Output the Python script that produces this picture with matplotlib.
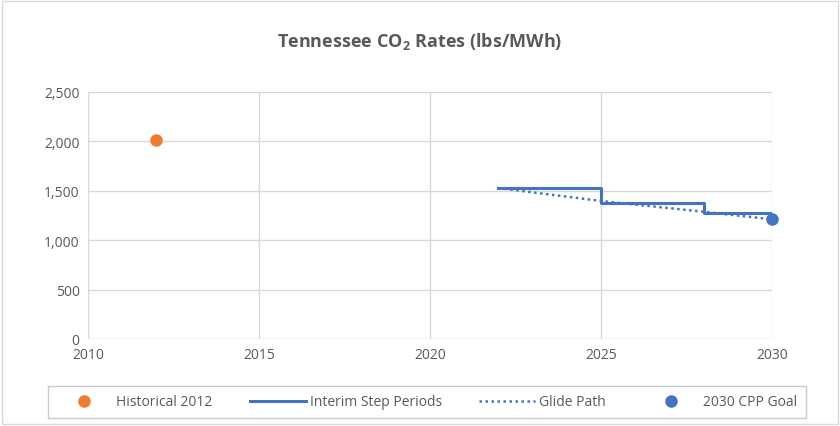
import matplotlib.pyplot as plt
from matplotlib.patches import Rectangle

# Data
hist_year = [2012]
hist_rate = [2015]

step_years = [2022, 2025, 2028, 2030]
step_rates = [1528, 1377, 1275, 1275]

glide_years = [2022, 2025, 2028, 2030]
glide_rates = [1528, 1397, 1288, 1211]

goal_year = [2030]
goal_rate = [1211]

orange = '#ED7D31'
blue = '#4472C4'
text_gray = '#595959'
grid_gray = '#D9D9D9'

plt.rcParams['font.family'] = ['Open Sans', 'DejaVu Sans']

fig = plt.figure(figsize=(8.4, 4.27), dpi=100)
ax = fig.add_axes([88 / 840, 1 - 340 / 427, (772 - 88) / 840, (340 - 93) / 427])

ax.plot(hist_year, hist_rate, 'o', color=orange, markersize=8, label='Historical 2012', zorder=4)
ax.step(step_years, step_rates, where='post', color=blue, linewidth=2.2, label='Interim Step Periods', zorder=3)
ax.plot(glide_years, glide_rates, color=blue, linewidth=1.8, linestyle=(0, (1, 1.4)), label='Glide Path', zorder=3)
ax.plot(goal_year, goal_rate, 'o', color=blue, markersize=8, label='2030 CPP Goal', zorder=4, clip_on=False)

ax.set_xlim(2010, 2030)
ax.set_ylim(0, 2500)
ax.set_xticks(range(2010, 2031, 5))
ax.set_yticks(range(0, 2501, 500))
ax.yaxis.set_major_formatter(plt.FuncFormatter(lambda v, p: f'{int(v):,}'))
ax.grid(True, color=grid_gray, linewidth=1)
ax.set_axisbelow(True)
for s in ax.spines.values():
    s.set_visible(False)
ax.tick_params(length=0, labelsize=10, labelcolor=text_gray, pad=6)

fig.text(0.5, 1 - 42 / 427, 'Tennessee CO$_\\mathregular{2}$ Rates (lbs/MWh)', ha='center', va='center',
         fontsize=13, fontweight='bold', color=text_gray)

# chart border
fig.add_artist(Rectangle((2 / 840, 2 / 427), 836 / 840, 423 / 427, transform=fig.transFigure,
                         fill=False, edgecolor=grid_gray, linewidth=1))

leg = fig.legend(loc='center', bbox_to_anchor=(427 / 840, 1 - 403 / 427), ncol=4, fontsize=10,
                 frameon=True, fancybox=False, edgecolor='#BFBFBF', handlelength=4,
                 columnspacing=2.7, handletextpad=0.3, borderpad=0.6)
for t in leg.get_texts():
    t.set_color(text_gray)

fig.savefig('out.png', dpi=100)
